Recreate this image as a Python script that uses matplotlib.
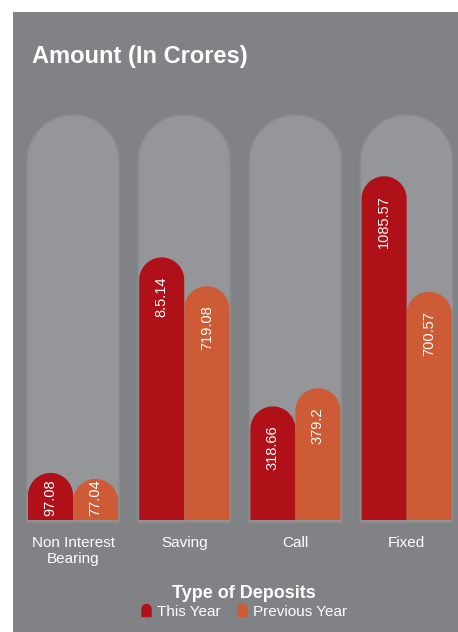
import numpy as np
import matplotlib
matplotlib.use("Agg")
import matplotlib.pyplot as plt
from matplotlib.path import Path
from matplotlib.patches import Polygon
from matplotlib.lines import Line2D

plt.rcParams["font.family"] = ["Liberation Sans", "DejaVu Sans"]

categories = ["Non Interest\nBearing", "Saving", "Call", "Fixed"]
this_year = [97.08, 815.14, 318.66, 1085.57]
previous_year = [77.04, 719.08, 379.2, 700.57]
this_year_labels = ["97.08", "8.5.14", "318.66", "1085.57"]
previous_year_labels = ["77.04", "719.08", "379.2", "700.57"]
series_names = ["This Year", "Previous Year"]

BG = "#808285"
COL = "#949699"
COL_EDGE = "#8a8c8f"
RED = "#b01119"
ORANGE = "#cc5b36"

W, H, DPI = 458, 632, 100
fig = plt.figure(figsize=(W / DPI, H / DPI), dpi=DPI, facecolor="white")
ax = fig.add_axes([13 / W, 0, 445 / W, 620 / H])
ax.set_facecolor(BG)
for s in ax.spines.values():
    s.set_visible(False)
ax.set_xticks([])
ax.set_yticks([])
ax.set_xlim(-0.54, 3.462)
ax.set_ylim(-433, 1633)

base = -60          # bars start a little below zero, as in the original artwork
col_top = 1290
bar_w = 0.405
col_half = 0.414

bb = ax.get_window_extent()
ppx = bb.width / np.ptp(ax.get_xlim())
ppy = bb.height / np.ptp(ax.get_ylim())


def dome(x0, x1, y0, y1, **kw):
    rx = (x1 - x0) / 2
    ry = min(rx * ppx / ppy, y1 - y0)
    cx = (x0 + x1) / 2
    t = np.linspace(np.pi, 0, 60)
    pts = [(x0, y0)] + list(zip(cx + rx * np.cos(t), y1 - ry + ry * np.sin(t))) + [(x1, y0)]
    p = Polygon(pts, closed=True, **kw)
    ax.add_patch(p)
    return p


x = np.arange(len(categories))
for xi in x:
    dome(xi - col_half, xi + col_half, base - 7, col_top, facecolor=COL,
         edgecolor=COL_EDGE, linewidth=1.2, zorder=1)

renderer = fig.canvas.get_renderer()
off = 19 / ppy
for vals, labs, color, sgn in [(this_year, this_year_labels, RED, -1),
                               (previous_year, previous_year_labels, ORANGE, 1)]:
    for xi, v, lab in zip(x, vals, labs):
        x0 = xi if sgn > 0 else xi - bar_w
        dome(x0, x0 + bar_w, base, v, facecolor=color, edgecolor="none", zorder=2)
        cx = x0 + bar_w / 2
        t = ax.text(cx, v - off, lab, rotation=90, ha="center", va="top",
                    color="white", fontsize=10.5, zorder=3,
                    family=["Liberation Sans Narrow", "Liberation Sans", "DejaVu Sans"])
        ext = t.get_window_extent(renderer)
        y_base_px = ax.transData.transform((0, base))[1]
        if ext.y0 < y_base_px + 4:
            t.set_va("bottom")
            t.set_y(base + 4 / ppy)

for xi, name in zip(x, categories):
    ax.text(xi, base - 16 / ppy, name, ha="center", va="top", color="white",
            fontsize=11, linespacing=1.15)

fig.text(32 / W, 1 - 57 / H, "Amount (In Crores)", ha="left", va="center",
         color="white", fontsize=17, fontweight="bold")

# dome-shaped legend markers
tt = np.linspace(np.pi, 0, 30)
mv = [(-0.375, -0.5)] + list(zip(0.375 * np.cos(tt), 0.125 + 0.375 * np.sin(tt))) + [(0.375, -0.5), (-0.375, -0.5)]
codes = [Path.MOVETO] + [Path.LINETO] * (len(mv) - 2) + [Path.CLOSEPOLY]
dome_marker = Path(mv, codes)
handles = [Line2D([], [], ls="none", marker=dome_marker, markersize=8.6,
                  markerfacecolor=c, markeredgecolor=c) for c in (RED, ORANGE)]
leg = fig.legend(handles, series_names, loc="upper center",
                 bbox_to_anchor=(244 / W, 1 - 577 / H), ncol=2, frameon=False,
                 title="Type of Deposits",
                 title_fontproperties={"weight": "bold", "size": 13},
                 prop={"size": 11}, handlelength=0.7, handletextpad=0.4,
                 columnspacing=1.0, borderpad=0, labelspacing=0.2,
                 labelcolor="white")
leg.get_title().set_color("white")

fig.savefig("out.png", dpi=DPI, facecolor="white")
